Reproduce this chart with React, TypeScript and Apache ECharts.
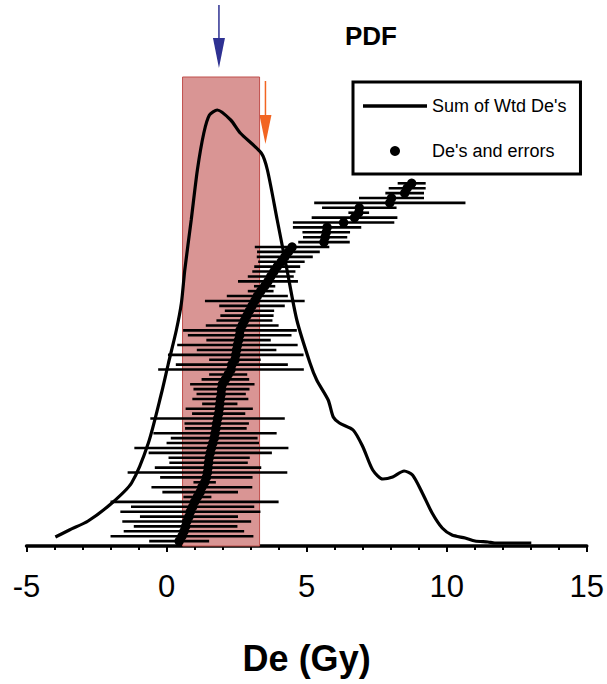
import React, { useEffect, useRef } from "react";
import * as echarts from "echarts";

// PDF curve ("Sum of Wtd De's"): De (Gy) and density (arbitrary units)
const pdfDe = [-3.97, -3.47, -2.8, -1.95, -1.25, -0.65, -0.18, 0.06, 0.35, 0.53, 0.65, 0.88, 1.1, 1.33, 1.53, 1.81, 2.29, 2.63, 3.38, 3.6, 3.95, 4.3, 4.65, 5.12, 5.36, 5.77, 5.95, 6.17, 6.66, 7.01, 7.36, 7.72, 8.07, 8.48, 8.78, 9.13, 9.48, 9.84, 10.19, 10.66, 11.01, 11.47, 11.72, 13.02];
const pdfVal = [9, 16, 25, 43, 63, 103, 153, 182, 216, 243, 276, 326, 376, 413, 431, 436, 426, 413, 393, 376, 326, 276, 226, 183, 166, 146, 129, 123, 116, 99, 76, 67, 69, 75, 71, 53, 33, 18, 11, 8, 5, 4, 3, 3];

// Individual De's (sorted) and their errors, plotted by rank
const deValues = [0.45, 0.55, 0.62, 0.68, 0.72, 0.8, 0.85, 0.93, 1.0, 1.1, 1.2, 1.26, 1.36, 1.42, 1.46, 1.48, 1.5, 1.52, 1.56, 1.6, 1.65, 1.7, 1.73, 1.76, 1.79, 1.82, 1.86, 1.88, 1.9, 1.92, 1.95, 1.96, 1.99, 2.1, 2.2, 2.3, 2.33, 2.44, 2.47, 2.5, 2.53, 2.57, 2.61, 2.62, 2.7, 2.78, 2.87, 2.96, 3.05, 3.15, 3.24, 3.36, 3.5, 3.62, 3.72, 3.83, 3.95, 4.1, 4.22, 4.35, 4.48, 5.62, 5.66, 5.7, 5.73, 6.32, 6.71, 6.86, 6.88, 7.97, 8.03, 8.5, 8.59, 8.75];
const deErrors = [1.07, 2.55, 2.15, 1.85, 2.3, 1.75, 2.5, 2.2, 3.0, 0.5, 1.35, 1.8, 0.4, 1.65, 2.85, 1.9, 1.4, 1.45, 2.2, 2.75, 1.65, 1.55, 2.2, 1.1, 1.15, 2.4, 0.95, 1.2, 0.63, 1.0, 0.88, 1.0, 1.15, 0.85, 0.68, 2.6, 2.0, 0.92, 2.42, 1.42, 2.15, 1.15, 1.85, 2.03, 1.3, 1.0, 0.95, 0.88, 1.17, 1.78, 1.09, 0.46, 0.38, 1.07, 0.82, 0.77, 0.82, 0.83, 1.0, 1.12, 1.33, 0.92, 0.79, 0.85, 1.22, 1.81, 1.53, 0.37, 1.33, 2.7, 1.16, 0.69, 0.66, 0.5];

// Shaded range and arrow markers (De, Gy)
const rangeDe = [0.57, 3.32];
const rangeTop = 469;
const arrowBlueDe = 1.87;
const arrowOrangeDe = 3.53;

const xTicks = [-5, 0, 5, 10, 15];

const FONT = "'Liberation Sans', Arial, sans-serif";

export default function App() {
  const ref = useRef<HTMLDivElement>(null);
  useEffect(() => {
    if (!ref.current) return;
    const chart = echarts.init(ref.current, undefined, { renderer: "svg" });
    const pdfData = pdfDe.map((x, i) => [x, pdfVal[i]]);
    const pointData = deValues.map((d, i) => [d, i + 1]);
    const barData = deValues.map((d, i) => [d - deErrors[i], d + deErrors[i], i + 1]);
    chart.setOption({
      animation: false,
      backgroundColor: "#fff",
      title: {
        text: "PDF",
        left: 345,
        top: 23,
        padding: 0,
        textStyle: { fontSize: 26, fontWeight: "bold", fontFamily: FONT, color: "#000" },
      },
      legend: {
        orient: "vertical",
        left: 353,
        top: 82,
        padding: [15, 14, 14, 10],
        borderColor: "#000",
        borderWidth: 3,
        itemWidth: 64,
        itemHeight: 10,
        itemGap: 27,
        textStyle: { fontSize: 18, fontFamily: FONT, color: "#000" },
        data: [
          { name: "Sum of Wtd De's", icon: "path://M0,0H64V3.6H0Z", itemStyle: { color: "#000" } },
          { name: "De's and errors", icon: "circle", itemStyle: { color: "#000", opacity: 1 } },
        ],
      },
      grid: { left: 26.5, right: 13.5, top: 0, bottom: 138 },
      xAxis: {
        type: "value",
        min: xTicks[0],
        max: xTicks[xTicks.length - 1],
        interval: 5,
        name: "De (Gy)",
        nameLocation: "middle",
        nameGap: 94,
        nameTextStyle: { fontSize: 36, fontWeight: "bold", fontFamily: FONT, color: "#000" },
        axisLine: { onZero: false, lineStyle: { color: "#000", width: 3.5 } },
        axisTick: { show: true, length: 6, lineStyle: { color: "#000", width: 2 } },
        minorTick: { show: true, splitNumber: 5, length: 4, lineStyle: { color: "#000", width: 2 } },
        axisLabel: { fontSize: 31, fontFamily: FONT, color: "#000", margin: 25 },
        splitLine: { show: false },
      },
      yAxis: [
        { type: "value", min: 0, max: 546, show: false, splitLine: { show: false } },
        { type: "value", min: 0, max: 111.4, show: false, splitLine: { show: false } },
      ],
      series: [
        {
          name: "range",
          type: "line",
          data: [],
          z: 1,
          markArea: {
            silent: true,
            itemStyle: { color: "#d99594", borderColor: "#c0504d", borderWidth: 1 },
            data: [[{ xAxis: rangeDe[0], yAxis: 0 }, { xAxis: rangeDe[1], yAxis: rangeTop }]],
          },
        },
        {
          name: "errors",
          type: "custom",
          yAxisIndex: 1,
          z: 3,
          encode: { x: [0, 1], y: 2 },
          data: barData,
          renderItem: (params: any, api: any) => {
            const a = api.coord([api.value(0), api.value(2)]);
            const b = api.coord([api.value(1), api.value(2)]);
            return {
              type: "line",
              shape: { x1: a[0], y1: a[1], x2: b[0], y2: b[1] },
              style: { stroke: "#000", lineWidth: 2.6 },
            };
          },
        },
        {
          name: "De's and errors",
          type: "scatter",
          yAxisIndex: 1,
          z: 4,
          symbol: "circle",
          symbolSize: 9.5,
          itemStyle: { color: "#000", opacity: 1 },
          data: pointData,
        },
        {
          name: "Sum of Wtd De's",
          type: "line",
          z: 5,
          symbol: "none",
          smooth: 0.25,
          lineStyle: { color: "#000", width: 3.2 },
          itemStyle: { color: "#000" },
          data: pdfData,
        },
      ],
    });
    const bx = chart.convertToPixel({ xAxisIndex: 0 }, arrowBlueDe) as number;
    const ox = chart.convertToPixel({ xAxisIndex: 0 }, arrowOrangeDe) as number;
    const blue = "#2e3192";
    const orange = "#f26522";
    chart.setOption({
      graphic: [
        { type: "line", shape: { x1: bx, y1: 5, x2: bx, y2: 42 }, style: { stroke: blue, lineWidth: 1.5 } },
        { type: "polygon", shape: { points: [[bx - 6, 38], [bx + 6, 38], [bx, 68]] }, style: { fill: blue } },
        { type: "line", shape: { x1: ox, y1: 81, x2: ox, y2: 118 }, style: { stroke: orange, lineWidth: 1.5 } },
        { type: "polygon", shape: { points: [[ox - 6, 115], [ox + 6, 115], [ox, 144]] }, style: { fill: orange } },
      ],
    });
    return () => chart.dispose();
  }, []);
  return <div ref={ref} style={{ width: 607, height: 684, position: "absolute", left: 0, top: 0 }} />;
}
